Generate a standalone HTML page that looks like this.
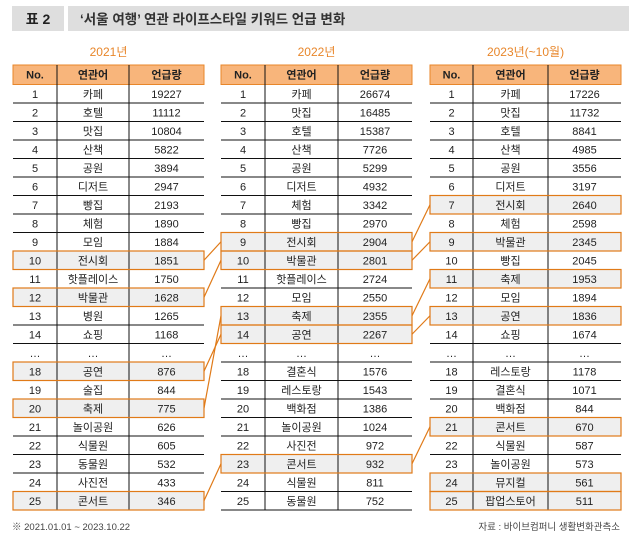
<!DOCTYPE html>
<html><head><meta charset="utf-8">
<style>
html,body{margin:0;padding:0;background:#fff;}
svg text{font-family:"Liberation Sans","Noto Sans CJK KR",sans-serif;}
</style></head>
<body>
<svg id="chart" width="629" height="545" viewBox="0 0 629 545" xmlns="http://www.w3.org/2000/svg">
<rect x="12" y="6" width="52" height="25" fill="#dedede"/>
<text x="38" y="24" font-size="14" font-weight="bold" text-anchor="middle" fill="#222">표 2</text>
<rect x="68" y="6" width="561" height="25" fill="#dedede"/>
<text x="80" y="24" font-size="13.5" font-weight="bold" fill="#333">‘서울 여행’ 연관 라이프스타일 키워드 언급 변화</text>
<g id="tables"></g>
<text x="12" y="530" font-size="9.5" fill="#444">※ 2021.01.01 ~ 2023.10.22</text>
<text x="620" y="530" font-size="9.5" fill="#444" text-anchor="end">자료 : 바이브컴퍼니 생활변화관측소</text>
</svg>
<script>
const years = ["2021년","2022년","2023년(~10월)"];
const ranks = [1,2,3,4,5,6,7,8,9,10,11,12,13,14,0,18,19,20,21,22,23,24,25];
const words2021 = ["카페","호텔","맛집","산책","공원","디저트","빵집","체험","모임","전시회","핫플레이스","박물관","병원","쇼핑","…","공연","술집","축제","놀이공원","식물원","동물원","사진전","콘서트"];
const values2021 = [19227,11112,10804,5822,3894,2947,2193,1890,1884,1851,1750,1628,1265,1168,null,876,844,775,626,605,532,433,346];
const words2022 = ["카페","맛집","호텔","산책","공원","디저트","체험","빵집","전시회","박물관","핫플레이스","모임","축제","공연","…","결혼식","레스토랑","백화점","놀이공원","사진전","콘서트","식물원","동물원"];
const values2022 = [26674,16485,15387,7726,5299,4932,3342,2970,2904,2801,2724,2550,2355,2267,null,1576,1543,1386,1024,972,932,811,752];
const words2023 = ["카페","맛집","호텔","산책","공원","디저트","전시회","체험","박물관","빵집","축제","모임","공연","쇼핑","…","레스토랑","결혼식","백화점","콘서트","식물원","놀이공원","뮤지컬","팝업스토어"];
const values2023 = [17226,11732,8841,4985,3556,3197,2640,2598,2345,2045,1953,1894,1836,1674,null,1178,1071,844,670,587,573,561,511];
const hl2021 = [10,12,18,20,25];
const hl2022 = [9,10,13,14,23];
const hl2023 = [7,9,11,13,21,24,25];
const links12 = [[10,9],[12,10],[18,14],[20,13],[25,23]];
const links23 = [[9,7],[10,9],[13,11],[14,13],[23,21]];

const NS="http://www.w3.org/2000/svg";
const g=document.getElementById('tables');
const cols=[[13,57,129,204],[221,265,338,412],[430,473,548,621]];
const words=[words2021,words2022,words2023], vals=[values2021,values2022,values2023], hls=[hl2021,hl2022,hl2023];
const headTop=65, rowTop=84.5, rowH=18.5;
function mk(tag,attrs,txt){const e=document.createElementNS(NS,tag);for(const k in attrs)e.setAttribute(k,attrs[k]);if(txt!=null)e.textContent=txt;g.appendChild(e);return e;}
function rowIdx(rank){return ranks.indexOf(rank);}
function rowY(i){return rowTop+i*rowH;}
for(let t=0;t<3;t++){
  const c=cols[t];
  const yl=mk('text',{x:(c[0]+c[3])/2,y:56,'font-size':12,'text-anchor':'middle',fill:'#e8862a'},years[t]);
  
  
  const hr=mk('rect',{x:c[0],y:headTop,width:c[3]-c[0],height:rowTop-headTop,fill:'#f8b57b',stroke:'#e8862a','stroke-width':1});
  
  
  ["No.","연관어","언급량"].forEach((h,k)=>{
    const ht=mk('text',{x:(c[k]+c[k+1])/2,y:headTop+13.5,'font-size':11,'font-weight':'bold','text-anchor':'middle',fill:'#222'},h);
    
    
  });
  for(let i=0;i<ranks.length;i++){
    const y=rowY(i);
    const hl=hls[t].includes(ranks[i]);
    if(hl){
      const r=mk('rect',{x:c[0],y:y,width:c[3]-c[0],height:rowH,fill:'#efefef'});
      
      
    }
    const ln=mk('line',{x1:c[0],x2:c[3],y1:y+rowH,y2:y+rowH,stroke:'#111','stroke-width':1});
    
    
    const cells=[ranks[i]?String(ranks[i]):"…",words[t][i],vals[t][i]==null?"…":String(vals[t][i])];
    cells.forEach((s,k)=>{
      const tx=mk('text',{x:(c[k]+c[k+1])/2,y:y+13.5,'font-size':11,'text-anchor':'middle',fill:'#222'},s);
      
      
    });
  }
  for(let k=1;k<3;k++){
    const v=mk('line',{x1:c[k],x2:c[k],y1:headTop,y2:rowY(ranks.length),stroke:'#111','stroke-width':1});
    
    
  }
  for(let i=0;i<ranks.length;i++){
    if(hls[t].includes(ranks[i])){
      const b=mk('rect',{x:c[0],y:rowY(i),width:c[3]-c[0],height:rowH,fill:'none',stroke:'#e07a18','stroke-width':1.2});
      
      
    }
  }
}
function link(pairs,a,b){
  pairs.forEach(p=>{
    const y1=rowY(rowIdx(p[0]))+rowH/2, y2=rowY(rowIdx(p[1]))+rowH/2;
    const l=mk('line',{x1:cols[a][3],y1:y1,x2:cols[b][0],y2:y2,stroke:'#e07a18','stroke-width':1.2});
    
    
  });
}
link(links12,0,1);
link(links23,1,2);
</script>
</body></html>
